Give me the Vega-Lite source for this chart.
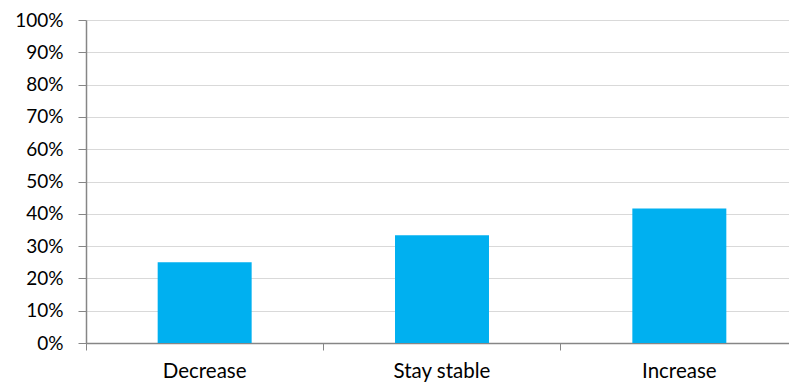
{
  "$schema": "https://vega.github.io/schema/vega-lite/v6.json",
  "autosize": "none",
  "padding": {"left": 86, "top": 20, "right": 0, "bottom": 39},
  "width": 703,
  "height": 323,
  "background": "white",
  "config": {
    "view": {"stroke": null},
    "font": "Lato"
  },
  "data": {
    "values": [
      {"change": "Decrease", "share": 0.25},
      {"change": "Stay stable", "share": 0.3333},
      {"change": "Increase", "share": 0.4167}
    ]
  },
  "mark": {"type": "bar", "color": "#00B0F0", "width": {"band": 0.396}},
  "encoding": {
    "x": {
      "field": "change",
      "type": "nominal",
      "sort": null,
      "scale": {"paddingInner": 0, "paddingOuter": 0, "range": [0, 712]},
      "axis": {
        "title": null,
        "labelAngle": 0,
        "labelFontSize": 20.5,
        "labelColor": "#000000",
        "labelPadding": 11,
        "bandPosition": 0,
        "tickSize": 7,
        "tickColor": "#868686",
        "domainColor": "#868686",
        "domainWidth": 1.5,
        "grid": false
      }
    },
    "y": {
      "field": "share",
      "type": "quantitative",
      "scale": {"domain": [0, 1], "nice": false},
      "axis": {
        "title": null,
        "format": ".0%",
        "values": [0, 0.1, 0.2, 0.3, 0.4, 0.5, 0.6, 0.7, 0.8, 0.9, 1],
        "labelFontSize": 19,
        "labelColor": "#000000",
        "labelPadding": 15,
        "tickSize": 8,
        "tickColor": "#868686",
        "domainColor": "#868686",
        "domainWidth": 1.5,
        "grid": true,
        "gridColor": "#d9d9d9",
        "gridWidth": 1
      }
    }
  }
}
